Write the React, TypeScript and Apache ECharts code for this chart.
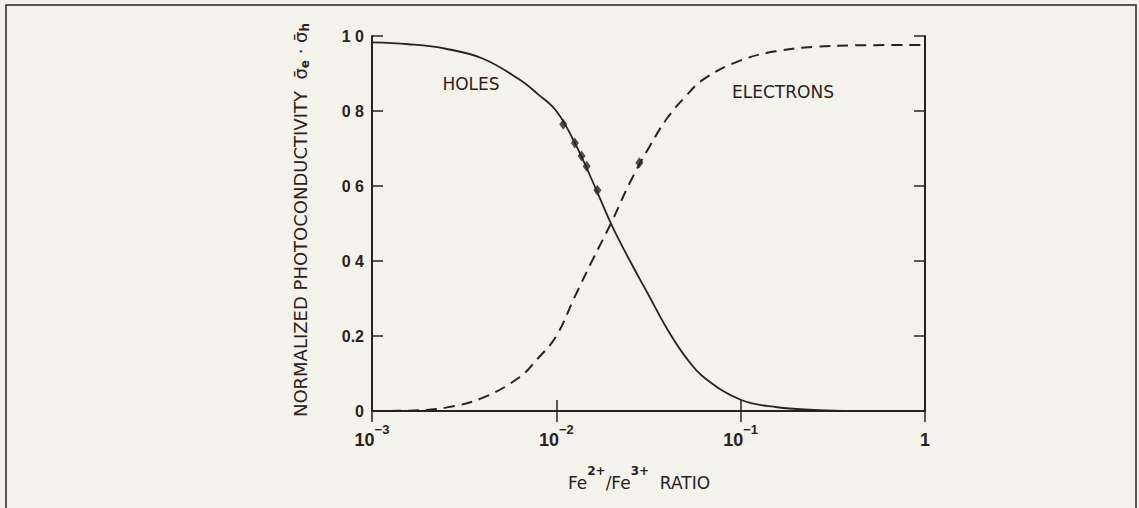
import React, { useEffect, useRef } from "react";
import * as echarts from "echarts";

// Holes (solid curve)
const holesX = [0.001, 0.00158, 0.00251, 0.00398, 0.00631, 0.00794, 0.01, 0.0126, 0.0158, 0.02, 0.0251, 0.0316, 0.0398, 0.0501, 0.0631, 0.1, 0.158, 0.251, 0.398, 1];
const holesY = [0.983, 0.978, 0.966, 0.94, 0.884, 0.845, 0.8, 0.715, 0.61, 0.495, 0.4, 0.31, 0.22, 0.145, 0.09, 0.03, 0.01, 0.003, 0.0, 0.0];

// Electrons (dashed curve)
const electronsX = [0.001, 0.00158, 0.00251, 0.00398, 0.00631, 0.00794, 0.01, 0.0126, 0.0158, 0.02, 0.0251, 0.0316, 0.0398, 0.0501, 0.0631, 0.1, 0.158, 0.251, 0.398, 1];
const electronsY = [0.0, 0.001, 0.009, 0.035, 0.09, 0.14, 0.2, 0.305, 0.405, 0.505, 0.61, 0.7, 0.78, 0.838, 0.885, 0.935, 0.96, 0.971, 0.975, 0.976];

// Measured points
const holesPointsX = [0.0109, 0.0126, 0.0137, 0.0146, 0.0167];
const holesPointsY = [0.765, 0.715, 0.68, 0.653, 0.589];
const electronPointsX = [0.0282];
const electronPointsY = [0.662];

// Ticks
const xTickExponents = [-3, -2, -1, 0];
const yTickValues = [0, 0.2, 0.4, 0.6, 0.8, 1.0];
const yTickLabels = ["0", "0.2", "0 4", "0 6", "0 8", "1 0"];
const curveLabels = ["HOLES", "ELECTRONS"];

const INK = "#2a2222";
const BG = "#f4f3eb";

export default function App() {
  const ref = useRef<HTMLDivElement>(null);

  useEffect(() => {
    if (!ref.current) return;
    const chart = echarts.init(ref.current, undefined, { renderer: "svg" });

    const xFormatter = (v: number) => {
      const e = Math.round(Math.log10(v));
      if (!xTickExponents.includes(e)) return "";
      if (e === 0) return "{b|1}";
      return `{b|10}{s|\u2212${-e}}`;
    };
    const yFormatter = (v: number) => {
      const i = yTickValues.findIndex((t) => Math.abs(t - v) < 1e-6);
      return i >= 0 ? yTickLabels[i] : "";
    };

    const axisLine = { show: true, lineStyle: { color: INK, width: 2 } };
    const axisTick = { show: true, inside: true, length: 11, lineStyle: { color: INK, width: 1.5 } };

    const option: any = {
      animation: false,
      backgroundColor: BG,
      grid: { left: 372, right: 214, top: 36, bottom: 97 },
      xAxis: [
        {
          type: "log",
          logBase: 10,
          min: 0.001,
          max: 1,
          position: "bottom",
          axisLine,
          axisTick,
          minorTick: { show: false },
          splitLine: { show: false },
          axisLabel: {
            margin: 12,
            formatter: xFormatter,
            color: INK,
            fontSize: 18,
            fontWeight: "bold",
            fontFamily: "Liberation Sans",
            rich: {
              b: { fontSize: 18, fontWeight: "bold", fontFamily: "Liberation Sans", color: INK, verticalAlign: "bottom", lineHeight: 26 },
              s: { fontSize: 13, fontWeight: "bold", fontFamily: "Liberation Sans", color: INK, verticalAlign: "top", lineHeight: 26 },
            },
          },
        },
        {
          type: "log",
          logBase: 10,
          min: 0.001,
          max: 1,
          position: "top",
          axisLine,
          axisTick,
          splitLine: { show: false },
          axisLabel: { show: false },
        },
      ],
      yAxis: [
        {
          type: "value",
          min: 0,
          max: 1,
          interval: 0.2,
          position: "left",
          axisLine,
          axisTick,
          splitLine: { show: false },
          axisLabel: {
            margin: 8,
            formatter: yFormatter,
            color: INK,
            fontSize: 16,
            fontWeight: "bold",
            fontFamily: "Liberation Sans",
          },
        },
        {
          type: "value",
          min: 0,
          max: 1,
          interval: 0.2,
          position: "right",
          axisLine,
          axisTick,
          splitLine: { show: false },
          axisLabel: { show: false },
        },
      ],
      series: [
        {
          name: "Holes",
          type: "line",
          data: holesX.map((x, i) => [x, holesY[i]]),
          smooth: 0.4,
          showSymbol: false,
          lineStyle: { color: INK, width: 1.8 },
          z: 3,
        },
        {
          name: "Electrons",
          type: "line",
          data: electronsX.map((x, i) => [x, electronsY[i]]),
          smooth: 0.4,
          showSymbol: false,
          lineStyle: { color: INK, width: 2, type: [11, 7] },
          z: 3,
        },
        {
          name: "Holes points",
          type: "scatter",
          data: holesPointsX.map((x, i) => [x, holesPointsY[i]]),
          symbol: "diamond",
          symbolSize: [8, 11],
          itemStyle: { color: INK },
          z: 4,
        },
        {
          name: "Electron points",
          type: "scatter",
          data: electronPointsX.map((x, i) => [x, electronPointsY[i]]),
          symbol: "diamond",
          symbolSize: [8, 11],
          itemStyle: { color: INK },
          z: 4,
        },
      ],
      graphic: [
        {
          type: "rect",
          shape: { x: 6, y: 5, width: 1130, height: 600 },
          style: { fill: "none", stroke: INK, lineWidth: 1.5 },
          silent: true,
        },
        {
          type: "text",
          x: 471,
          y: 84,
          style: { text: curveLabels[0], fontSize: 17, fontFamily: "DejaVu Sans", fill: INK, align: "center", verticalAlign: "middle" },
        },
        {
          type: "text",
          x: 783,
          y: 92,
          style: { text: curveLabels[1], fontSize: 17, fontFamily: "DejaVu Sans", fill: INK, align: "center", verticalAlign: "middle" },
        },
        {
          type: "text",
          x: 300,
          y: 220,
          rotation: Math.PI / 2,
          style: {
            text: "{t|NORMALIZED PHOTOCONDUCTIVITY  }{g|\u03C3\u0304}{u|e}{t| \u00B7 }{g|\u03C3\u0304}{u|h}",
            align: "center",
            verticalAlign: "middle",
            fill: INK,
            rich: {
              t: { fontSize: 18, fontFamily: "DejaVu Sans", fill: INK, verticalAlign: "middle", lineHeight: 22 },
              g: { fontSize: 18, fontFamily: "DejaVu Sans", fill: INK, verticalAlign: "middle", lineHeight: 22 },
              u: { fontSize: 12, fontFamily: "DejaVu Sans", fontWeight: "bold", fill: INK, verticalAlign: "bottom", lineHeight: 22 },
            },
          },
        },
        {
          type: "text",
          x: 639,
          y: 478,
          style: {
            text: "{b|Fe}{s|2+}{b|/Fe}{s|3+}{b|  RATIO}",
            align: "center",
            verticalAlign: "middle",
            fill: INK,
            rich: {
              b: { fontSize: 17, fontFamily: "DejaVu Sans", fill: INK, verticalAlign: "bottom", lineHeight: 26 },
              s: { fontSize: 12, fontFamily: "DejaVu Sans", fontWeight: "bold", fill: INK, verticalAlign: "top", lineHeight: 26 },
            },
          },
        },
      ],
    };

    chart.setOption(option);
    return () => chart.dispose();
  }, []);

  return (
    <div
      ref={ref}
      style={{ position: "fixed", left: 0, top: 0, width: 1139, height: 508 }}
    />
  );
}
